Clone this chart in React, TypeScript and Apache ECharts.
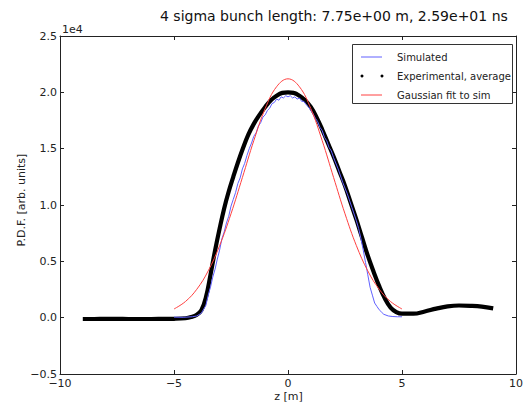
import React, { useEffect, useRef } from "react";
import * as echarts from "echarts";

const titleText = "4 sigma bunch length: 7.75e+00 m, 2.59e+01 ns";
const xTicks = [-10, -5, 0, 5, 10];
const yTicks = [-5000, 0, 5000, 10000, 15000, 20000, 25000];
const legendNames = ["Simulated", "Experimental, average", "Gaussian fit to sim"];

const zExp = [-9.0, -8.5, -8.0, -7.5, -7.0, -6.5, -6.0, -5.5, -5.0, -4.5, -4.25, -4.0, -3.8, -3.6, -3.4, -3.2, -3.0, -2.8, -2.6, -2.4, -2.2, -2.0, -1.75, -1.5, -1.25, -1.0, -0.75, -0.5, -0.25, 0.0, 0.25, 0.5, 0.75, 1.0, 1.25, 1.5, 1.75, 2.0, 2.25, 2.5, 2.75, 3.0, 3.25, 3.5, 3.75, 4.0, 4.25, 4.5, 4.75, 5.0, 5.5, 6.0, 6.5, 7.0, 7.5, 8.0, 8.5, 9.0];
const pdfExp = [-120, -120, -110, -110, -120, -120, -120, -110, -100, -50, 50, 250, 650, 1800, 3800, 5950, 7900, 9700, 11200, 12500, 13750, 14900, 16200, 17200, 18000, 18700, 19300, 19700, 19950, 20000, 19950, 19700, 19300, 18700, 17800, 16700, 15500, 14300, 13000, 11700, 10200, 8700, 7100, 5500, 4100, 2800, 1700, 900, 500, 350, 350, 550, 800, 1000, 1080, 1050, 980, 830];

const zSim = [-5.0, -4.6, -4.2, -4.0, -3.8, -3.6, -3.5, -3.4, -3.3, -3.2, -3.1, -3.0, -2.9, -2.8, -2.7, -2.6, -2.5, -2.4, -2.3, -2.2, -2.1, -2.0, -1.9, -1.8, -1.7, -1.6, -1.5, -1.4, -1.3, -1.2, -1.1, -1.0, -0.9, -0.8, -0.7, -0.6, -0.5, -0.4, -0.3, -0.2, -0.1, 0.0, 0.1, 0.2, 0.3, 0.4, 0.5, 0.6, 0.7, 0.8, 0.9, 1.0, 1.1, 1.2, 1.3, 1.4, 1.5, 1.6, 1.7, 1.8, 1.9, 2.0, 2.2, 2.4, 2.6, 2.8, 3.0, 3.1, 3.2, 3.3, 3.4, 3.5, 3.6, 3.7, 3.8, 3.9, 4.0, 4.1, 4.2, 4.4, 4.6, 4.8, 5.0];
const pdfSim = [50, 30, 80, 150, 400, 1100, 2000, 2700, 3600, 4300, 5200, 6000, 7000, 7600, 8400, 9000, 9900, 10500, 11100, 11900, 12400, 13200, 13700, 14400, 15000, 15500, 16100, 16400, 17000, 17300, 17800, 18000, 18400, 18600, 19000, 19100, 19400, 19300, 19600, 19500, 19700, 19600, 19700, 19500, 19600, 19400, 19500, 19200, 19200, 18900, 18700, 18400, 18100, 17700, 17400, 16900, 16600, 16000, 15700, 15100, 14800, 14200, 13200, 12000, 11000, 9800, 8600, 7900, 7000, 6000, 4900, 3800, 2700, 2000, 1300, 1000, 700, 500, 300, 150, 100, 80, 80];

const zFit = [-5.0, -4.5, -4.0, -3.5, -3.0, -2.5, -2.0, -1.5, -1.0, -0.5, 0.0, 0.5, 1.0, 1.5, 2.0, 2.5, 3.0, 3.5, 4.0, 4.5, 5.0];
const pdfFit = [770, 1430, 2520, 4150, 6390, 9220, 12440, 15710, 18560, 20500, 21200, 20500, 18560, 15710, 12440, 9220, 6390, 4150, 2520, 1430, 770];

const FONT = "DejaVu Sans";
const BLUE = "#6060ff";
const RED = "#ff4040";

const pair = (xs: number[], ys: number[]) => xs.map((x, i) => [x, ys[i]]);
const minus = (s: string) => s.replace("-", "\u2212");

export default function App() {
  const ref = useRef<HTMLDivElement>(null);
  useEffect(() => {
    if (!ref.current) return;
    const chart = echarts.init(ref.current, undefined, { renderer: "svg" });
    const axisCommon = {
      type: "value" as const,
      axisLine: { show: true, onZero: false, lineStyle: { color: "#222", width: 1 } },
      axisTick: { show: true, inside: true, length: 4, lineStyle: { color: "#222" } },
      splitLine: { show: false },
    };
    chart.setOption({
      animation: false,
      backgroundColor: "#fff",
      grid: { left: 60, right: 9, top: 36, bottom: 33, containLabel: false },
      xAxis: [
        {
          ...axisCommon,
          min: xTicks[0],
          max: xTicks[xTicks.length - 1],
          interval: 5,
          position: "bottom",
          axisLabel: {
            color: "#222",
            fontFamily: FONT,
            fontSize: 11,
            margin: 4,
            formatter: (v: number) => minus(String(v)),
          },
        },
        {
          ...axisCommon,
          min: xTicks[0],
          max: xTicks[xTicks.length - 1],
          interval: 5,
          position: "top",
          axisLabel: { show: false },
        },
      ],
      yAxis: [
        {
          ...axisCommon,
          min: yTicks[0],
          max: yTicks[yTicks.length - 1],
          interval: 5000,
          position: "left",
          axisLabel: {
            color: "#222",
            fontFamily: FONT,
            fontSize: 11,
            margin: 3,
            formatter: (v: number) => minus((v / 10000).toFixed(1)),
          },
        },
        {
          ...axisCommon,
          min: yTicks[0],
          max: yTicks[yTicks.length - 1],
          interval: 5000,
          position: "right",
          axisLabel: { show: false },
        },
      ],
      series: [
        {
          name: legendNames[0],
          type: "line",
          data: pair(zSim, pdfSim),
          showSymbol: false,
          symbol: "none",
          lineStyle: { color: BLUE, width: 1 },
          z: 3,
        },
        {
          name: legendNames[1],
          type: "line",
          data: pair(zExp, pdfExp),
          showSymbol: false,
          symbol: "none",
          smooth: 0.4,
          lineStyle: { color: "#000", width: 4.2 },
          z: 2,
        },
        {
          name: legendNames[2],
          type: "line",
          data: pair(zFit, pdfFit),
          showSymbol: false,
          symbol: "none",
          smooth: 0.4,
          lineStyle: { color: RED, width: 1 },
          z: 4,
        },
      ],
      graphic: [
        {
          type: "text",
          left: 160,
          top: 9,
          style: { text: titleText, font: `14px "${FONT}"`, fill: "#111" },
        },
        {
          type: "text",
          left: 62,
          top: 24,
          style: { text: "1e4", font: `11px "${FONT}"`, fill: "#222" },
        },
        {
          type: "text",
          x: 21,
          y: 200,
          rotation: Math.PI / 2,
          style: {
            text: "P.D.F. [arb. units]",
            font: `11px "${FONT}"`,
            fill: "#222",
            align: "center",
            verticalAlign: "middle",
          },
        },
        {
          type: "text",
          x: 288.5,
          y: 396,
          style: {
            text: "z [m]",
            font: `11px "${FONT}"`,
            fill: "#222",
            align: "center",
            verticalAlign: "middle",
          },
        },
        {
          type: "rect",
          shape: { x: 352.5, y: 44.5, width: 160, height: 59 },
          style: { fill: "#fff", stroke: "#333", lineWidth: 1 },
          z: 100,
        },
        {
          type: "line",
          shape: { x1: 361, y1: 57, x2: 382, y2: 57 },
          style: { stroke: BLUE, lineWidth: 1 },
          z: 101,
        },
        { type: "circle", shape: { cx: 362, cy: 76, r: 1.5 }, style: { fill: "#000" }, z: 101 },
        { type: "circle", shape: { cx: 382, cy: 76, r: 1.5 }, style: { fill: "#000" }, z: 101 },
        {
          type: "line",
          shape: { x1: 361, y1: 95, x2: 382, y2: 95 },
          style: { stroke: RED, lineWidth: 1 },
          z: 101,
        },
        ...legendNames.map((n, i) => ({
          type: "text",
          x: 397,
          y: 57 + i * 19,
          z: 101,
          style: { text: n, font: `10px "${FONT}"`, fill: "#222", verticalAlign: "middle" },
        })),
      ],
    });
    return () => chart.dispose();
  }, []);
  return <div ref={ref} style={{ width: 526, height: 407, position: "absolute", left: 0, top: 0 }} />;
}
